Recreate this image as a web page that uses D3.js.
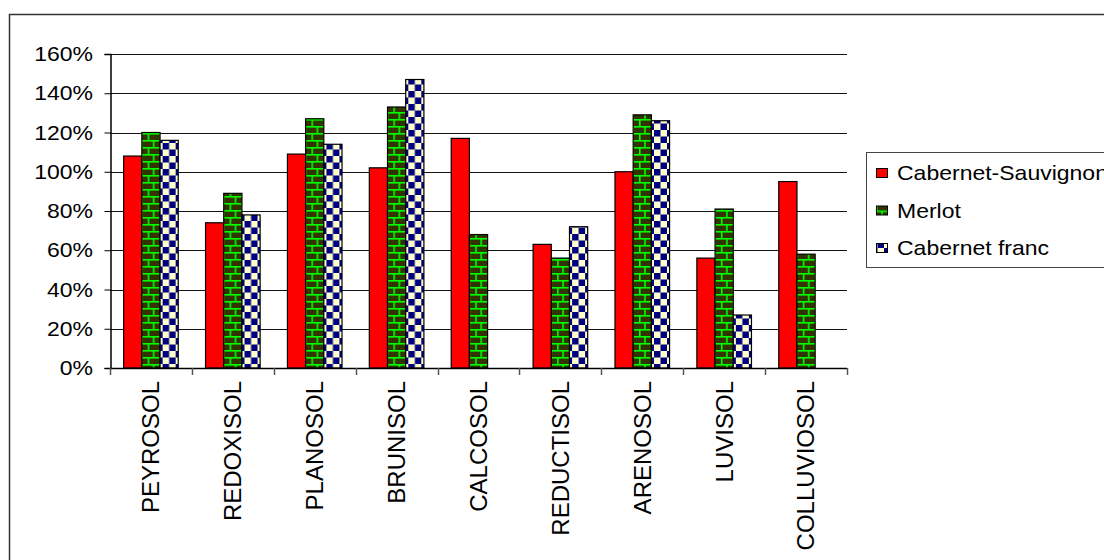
<!DOCTYPE html>
<html>
<head>
<meta charset="utf-8">
<script src="https://cdn.jsdelivr.net/npm/d3@7"></script>
<style>
  html, body { margin: 0; padding: 0; background: #fff; }
  svg { display: block; }
  text { font-family: "Liberation Sans", Arial, sans-serif; fill: #000; }
</style>
</head>
<body>
<svg id="chart" width="1104" height="560"></svg>
<script>
// Soil types along the x axis
const categories = ["PEYROSOL", "REDOXISOL", "PLANOSOL", "BRUNISOL", "CALCOSOL",
                    "REDUCTISOL", "ARENOSOL", "LUVISOL", "COLLUVIOSOL"];
const seriesNames = ["Cabernet-Sauvignon", "Merlot", "Cabernet franc"];
// Values in percent per grape variety (null = no bar)
const cabernetSauvignon = [108, 74, 109, 102, 117, 63, 100, 56, 95];
const merlot            = [120, 89, 127, 133, 68, 56, 129, 81, 58];
const cabernetFranc     = [116, 78, 114, 147, 0, 72, 126, 27, null];
const yTicks = [0, 20, 40, 60, 80, 100, 120, 140, 160];

const seriesValues = [cabernetSauvignon, merlot, cabernetFranc];
const fills = ["#ff0000", "url(#brick)", "url(#checker)"];

const svg = d3.select("#chart");
const defs = svg.append("defs");

// Brick pattern: dark olive with bright green mortar lines
const brick = defs.append("pattern").attr("id", "brick")
  .attr("patternUnits", "userSpaceOnUse").attr("width", 12).attr("height", 14);
brick.append("rect").attr("width", 12).attr("height", 14).attr("fill", "#333300");
brick.append("rect").attr("x", 0).attr("y", 0).attr("width", 12).attr("height", 1.6).attr("fill", "#00ff00");
brick.append("rect").attr("x", 0).attr("y", 7).attr("width", 12).attr("height", 1.6).attr("fill", "#00ff00");
brick.append("rect").attr("x", 5.2).attr("y", 0).attr("width", 1.6).attr("height", 7).attr("fill", "#00ff00");
brick.append("rect").attr("x", 0).attr("y", 7).attr("width", 1.6).attr("height", 7).attr("fill", "#00ff00");

// Checkerboard pattern: navy and cream squares
const checker = defs.append("pattern").attr("id", "checker")
  .attr("patternUnits", "userSpaceOnUse").attr("width", 13).attr("height", 13);
checker.append("rect").attr("width", 13).attr("height", 13).attr("fill", "#ffffcc");
checker.append("rect").attr("x", 0).attr("y", 0).attr("width", 6.5).attr("height", 6.5).attr("fill", "#000080");
checker.append("rect").attr("x", 6.5).attr("y", 6.5).attr("width", 6.5).attr("height", 6.5).attr("fill", "#000080");

// Outer frame
svg.append("rect").attr("x", 9.5).attr("y", 14.5).attr("width", 1120).attr("height", 600)
  .attr("fill", "#fff").attr("stroke", "#333").attr("stroke-width", 1.5);

const plot = { left: 110, right: 847, top: 54, bottom: 368 };

const y = d3.scaleLinear().domain([0, 160]).range([plot.bottom, plot.top]);
const x0 = d3.scaleBand().domain(categories).range([plot.left, plot.right])
  .paddingInner(1 / 3).paddingOuter(1 / 6);
const x1 = d3.scaleBand().domain(seriesNames).range([0, x0.bandwidth()]);
const step = x0.step();

// Horizontal gridlines
svg.append("g").selectAll("line").data(yTicks.filter(t => t > 0)).join("line")
  .attr("x1", plot.left).attr("x2", plot.right)
  .attr("y1", d => Math.round(y(d)) + 0.5).attr("y2", d => Math.round(y(d)) + 0.5)
  .attr("stroke", "#111").attr("stroke-width", 1);

// Bars
const groups = svg.append("g").selectAll("g").data(categories).join("g")
  .attr("transform", d => `translate(${x0(d)},0)`);
groups.selectAll("rect")
  .data((c, i) => seriesNames.map((s, j) => ({ s, j, v: seriesValues[j][i] })))
  .join("rect")
  .filter(d => d.v !== null && d.v > 0)
  .attr("x", d => x1(d.s))
  .attr("y", d => y(d.v))
  .attr("width", x1.bandwidth())
  .attr("height", d => y(0) - y(d.v))
  .attr("fill", (d) => fills[d.j])
  .attr("stroke", "#000").attr("stroke-width", 1.2);

// Y axis
const yAxis = svg.append("g").attr("transform", `translate(${plot.left + 0.5},0)`)
  .call(d3.axisLeft(y).tickValues(yTicks).tickSize(6).tickPadding(0).tickFormat(() => ""));
yAxis.select(".domain").attr("stroke", "#000").attr("stroke-width", 1.5);
yAxis.selectAll(".tick line").attr("stroke", "#000");

// Y tick labels (slightly widened type)
svg.append("g").selectAll("text").data(yTicks).join("text")
  .attr("transform", d => `translate(93,${y(d) + 7}) scale(1.15,1)`)
  .attr("text-anchor", "end").attr("font-size", 20)
  .text(d => d + "%");

// X axis with ticks on category boundaries
const boundaries = d3.range(categories.length + 1).map(i => plot.left + i * step);
svg.append("line").attr("x1", plot.left).attr("x2", plot.right)
  .attr("y1", plot.bottom + 0.5).attr("y2", plot.bottom + 0.5)
  .attr("stroke", "#000").attr("stroke-width", 1.5);
svg.append("g").selectAll("line").data(boundaries).join("line")
  .attr("x1", d => Math.round(d) + 0.5).attr("x2", d => Math.round(d) + 0.5)
  .attr("y1", plot.bottom).attr("y2", plot.bottom + 7)
  .attr("stroke", "#555").attr("stroke-width", 1.5);

// Rotated category labels
svg.append("g").selectAll("text").data(categories).join("text")
  .attr("transform", d => `translate(${x0(d) + x0.bandwidth() / 2 + step * 0.0},381) rotate(-90)`)
  .attr("text-anchor", "end").attr("dy", "0.35em").attr("font-size", 24)
  .text(d => d);

// Legend
const legend = svg.append("g");
legend.append("rect").attr("x", 866.5).attr("y", 152.5).attr("width", 300).attr("height", 115)
  .attr("fill", "#fff").attr("stroke", "#444").attr("stroke-width", 1);
const items = legend.selectAll("g").data(seriesNames).join("g")
  .attr("transform", (d, i) => `translate(0,${173 + i * 37.5})`);
items.append("rect").attr("x", 876.5).attr("y", -4.5).attr("width", 11).attr("height", 9)
  .attr("fill", (d, i) => fills[i]).attr("stroke", "#000").attr("stroke-width", 1);
items.append("text")
  .attr("transform", "translate(897,7) scale(1.15,1)")
  .attr("font-size", 20)
  .text(d => d);
</script>
</body>
</html>
